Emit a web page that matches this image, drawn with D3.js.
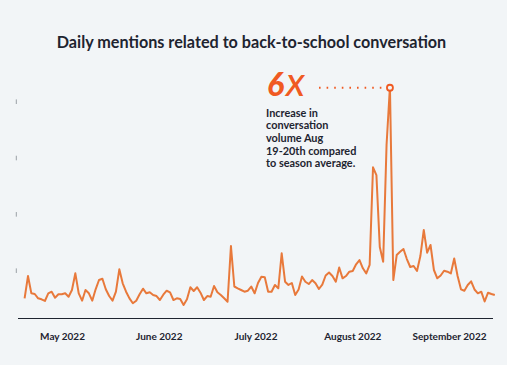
<!DOCTYPE html>
<html><head><meta charset="utf-8">
<script src="https://cdn.jsdelivr.net/npm/d3@7"></script>
<style>
html,body{margin:0;padding:0;background:#f2f5f7;}
svg{display:block;}
</style></head>
<body><div id="chart"></div>
<script>
const title = "Daily mentions related to back-to-school conversation";
const startDate = "2022-05-04";
const mentions = [509,905,598,586,509,492,462,598,627,520,580,580,598,538,657,953,598,467,657,598,
467,669,834,857,669,550,467,627,1024,776,627,509,421,467,580,680,598,616,568,550,
479,573,644,616,479,509,497,391,492,705,639,705,609,479,550,538,728,616,568,509,
449,1438,719,687,657,627,644,719,598,781,893,882,627,627,746,687,1308,804,746,781,
568,666,896,804,763,834,776,675,754,914,967,905,804,1056,864,905,982,994,1113,1189,
1042,953,1101,2835,2698,1420,1159,3231,4265,834,1278,1337,1385,1207,1065,1083,994,1260,1722,1319,
1456,1012,864,914,999,982,950,1216,905,669,644,746,811,666,598,627,453,609,586,568];
const monthLabels = ["May 2022","June 2022","July 2022","August 2022","September 2022"];
const yTicks = [1000,2000,3000,4000];
const calloutValue = "6";
const calloutSuffix = "x";
const calloutLines = ["Increase in","conversation","volume Aug","19-20th compared","to season average."];

const W = 507, H = 365;
const parse = d3.timeParse("%Y-%m-%d");
const t0 = parse(startDate);
const dates = mentions.map((_, i) => d3.timeDay.offset(t0, i));
const data = dates.map((d, i) => ({date: d, value: mentions[i]}));

const svg = d3.select("#chart").append("svg").attr("width", W).attr("height", H)
  .style("background", "#f2f5f7");

const x = d3.scaleTime().domain(d3.extent(dates)).range([24.6, 494.8]);
const y = d3.scaleLinear().domain([0, 4000]).range([327, 101.7]);
const xl = d3.scalePoint().domain(monthLabels).range([18, 493]).padding(0.455);

svg.append("text").attr("x", 251.5).attr("y", 48).attr("text-anchor", "middle")
  .attr("font-family", "Lato, sans-serif").attr("font-weight", 700).attr("font-size", 16.2)
  .attr("fill", "#1e2430").text(title);

// y ticks (no labels)
svg.append("g").selectAll("line").data(yTicks).join("line")
  .attr("x1", 16.3).attr("x2", 16.3)
  .attr("y1", d => y(d) - 2.3).attr("y2", d => y(d) + 2.3)
  .attr("stroke", "#9aa0a6").attr("stroke-width", 1);

// x axis
const xa = svg.append("g").attr("transform", "translate(0,318.5)")
  .call(d3.axisBottom(xl).tickSize(0).tickPadding(14));
xa.select(".domain").attr("d", "M18,0H493").attr("stroke", "#1e2430").attr("stroke-width", 1.2);
xa.selectAll("text").attr("font-family", "Lato, sans-serif").attr("font-weight", 700)
  .attr("font-size", 10).attr("fill", "#1e2430");

// line
svg.append("path").datum(data)
  .attr("fill", "none").attr("stroke", "#e8793b").attr("stroke-width", 2)
  .attr("stroke-linejoin", "round")
  .attr("d", d3.line().x(d => x(d.date)).y(d => y(d.value)));

// callout
const peak = data.reduce((a, b) => b.value > a.value ? b : a);
const px = x(peak.date), py = y(peak.value) + 1;
svg.append("line").attr("x1", 319).attr("x2", px - 4).attr("y1", py).attr("y2", py)
  .attr("stroke", "#f05a22").attr("stroke-width", 2).attr("stroke-dasharray", "1.6,6")
  .attr("stroke-linecap", "butt");
svg.append("circle").attr("cx", px).attr("cy", py).attr("r", 3)
  .attr("fill", "#f2f5f7").attr("stroke", "#f05a22").attr("stroke-width", 1.8);

const big = svg.append("text").attr("x", 267).attr("y", 96)
  .attr("font-family", "Lato, sans-serif").attr("font-style", "italic").attr("fill", "#f05a22");
big.append("tspan").attr("font-weight", 900).attr("font-size", 32).text(calloutValue);
big.append("tspan").attr("font-weight", 400).attr("font-size", 41).attr("dx", 2).text(calloutSuffix);

svg.append("g").selectAll("text").data(calloutLines).join("text")
  .attr("x", 266).attr("y", (d, i) => 116.5 + i * 12.7)
  .attr("font-family", "Lato, sans-serif").attr("font-weight", 700).attr("font-size", 10.9)
  .attr("fill", "#1e2430").text(d => d);
</script></body></html>
